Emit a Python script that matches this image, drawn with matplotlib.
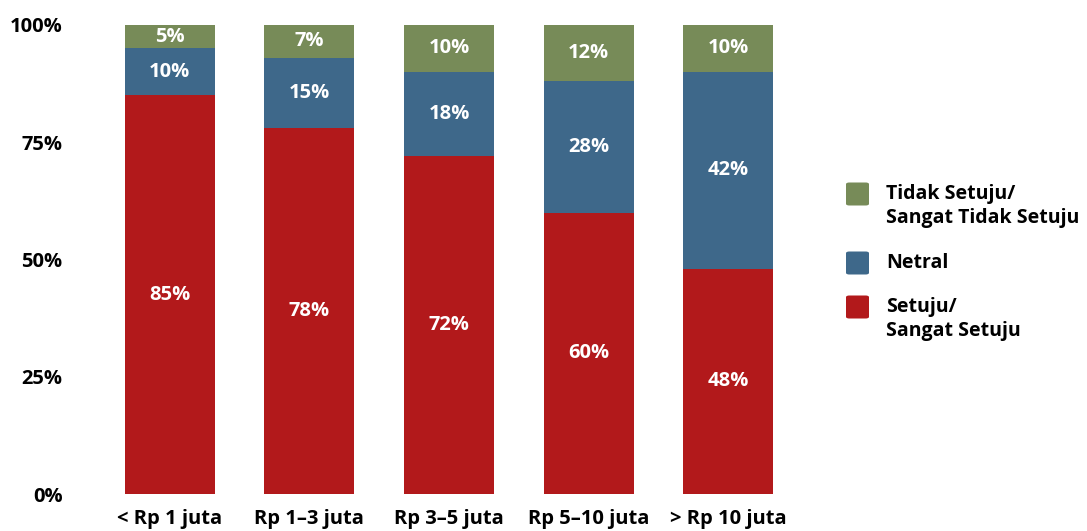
import matplotlib.pyplot as plt
import numpy as np
from matplotlib.patches import FancyBboxPatch

plt.rcParams['font.family'] = ['Open Sans', 'DejaVu Sans']
plt.rcParams['font.weight'] = 'bold'

categories = ['< Rp 1 juta', 'Rp 1\u20133 juta', 'Rp 3\u20135 juta', 'Rp 5\u201310 juta', '> Rp 10 juta']
setuju = [85, 78, 72, 60, 48]
netral = [10, 15, 18, 28, 42]
tidak_setuju = [5, 7, 10, 12, 10]

series_names = ['Setuju/\nSangat Setuju', 'Netral', 'Tidak Setuju/\nSangat Tidak Setuju']
colors = ['#B2191B', '#3E688A', '#778B58']

FS = 14.5

fig = plt.figure(figsize=(10.87, 5.31), dpi=100)
ax = fig.add_axes([100 / 1087, 37 / 531, 698 / 1087, 469 / 531])

x = np.arange(len(categories))
bottom = np.zeros(len(categories))
for values, color in zip([setuju, netral, tidak_setuju], colors):
    vals = np.array(values) / 100
    ax.bar(x, vals, 0.645, bottom=bottom, color=color, linewidth=0)
    for xi, b, v, pct in zip(x, bottom, vals, values):
        ax.text(xi, b + v / 2, f'{pct}%', ha='center', va='center',
                color='white', fontsize=FS, fontweight='bold')
    bottom += vals

ax.set_xlim(-0.5, len(categories) - 0.5)
ax.set_ylim(0, 1)
ax.set_yticks([0, 0.25, 0.5, 0.75, 1.0])
ax.set_yticklabels(['0%', '25%', '50%', '75%', '100%'])
ax.set_xticks(x)
ax.set_xticklabels(categories)
ax.tick_params(axis='y', length=0, pad=27, labelsize=FS)
ax.tick_params(axis='x', length=0, pad=11, labelsize=FS)
for s in ax.spines.values():
    s.set_visible(False)

# Legend drawn by hand so each swatch sits level with the first text line
legend_rows = [(194, series_names[2], colors[2]),
               (263, series_names[1], colors[1]),
               (307, series_names[0], colors[0])]
W, H = 1087, 531
for y_px, label, color in legend_rows:
    sw = 23
    box = FancyBboxPatch((846 / W, (H - y_px - sw / 2) / H), sw / W, sw / H,
                         boxstyle='round,pad=0,rounding_size=0.003',
                         transform=fig.transFigure, color=color, linewidth=0)
    fig.patches.append(box)
    lines = label.split('\n')
    for i, line in enumerate(lines):
        fig.text(886 / W, (H - y_px - 24 * i) / H, line, ha='left', va='center',
                 fontsize=14, fontweight='bold')

fig.savefig('out.png', dpi=100)
